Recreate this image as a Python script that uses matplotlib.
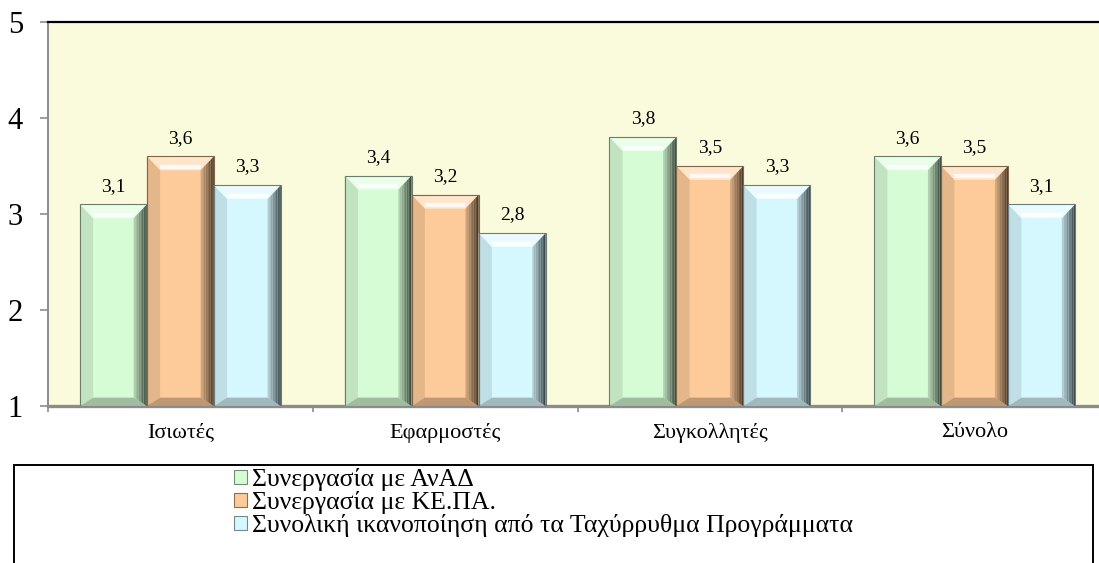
import numpy as np
import matplotlib
matplotlib.use("Agg")
import matplotlib.pyplot as plt
from matplotlib.patches import Polygon, Patch, Rectangle
from matplotlib.colors import to_rgb

plt.rcParams['font.family'] = ['Liberation Serif', 'DejaVu Serif']

categories = ['Ισιωτές', 'Εφαρμοστές', 'Συγκολλητές', 'Σύνολο']
series_names = ['Συνεργασία με ΑνΑΔ',
                'Συνεργασία με ΚΕ.ΠΑ.',
                'Συνολική ικανοποίηση από τα Ταχύρρυθμα Προγράμματα']
anad = [3.1, 3.4, 3.8, 3.6]
kepa = [3.6, 3.2, 3.5, 3.5]
total = [3.3, 2.8, 3.3, 3.1]
yticks = [1, 2, 3, 4, 5]

face_colors = ['#D6FCD5', '#FDCB99', '#D5F7FE']
W, H = 1099, 563


def mix(c, other, t):
    c = np.array(to_rgb(c))
    o = np.array(to_rgb(other))
    return tuple(c * (1 - t) + o * t)


def bevel(ax, patch, color, dx=0.05, dy=0.145, nstrip=8):
    # fake 3D bevelled edges on top of a flat bar
    x0, y0 = patch.get_x(), patch.get_y()
    x1, y1 = x0 + patch.get_width(), y0 + patch.get_height()
    by = dy * 0.6
    ax.add_patch(Polygon([(x0, y1), (x1, y1), (x1 - dx, y1 - dy), (x0 + dx, y1 - dy)],
                         closed=True, fc=mix(color, 'white', 0.5), ec='none', zorder=3))
    ax.add_patch(Polygon([(x0, y1), (x0 + dx, y1 - dy), (x0 + dx, y0 + by), (x0, y0)],
                         closed=True, fc=mix(color, 'black', 0.1), ec='none', zorder=3))
    ax.add_patch(Polygon([(x0, y0), (x1, y0), (x1 - dx, y0 + by), (x0 + dx, y0 + by)],
                         closed=True, fc=mix(color, 'black', 0.25), ec='none', zorder=3))
    # right side: gradient from face colour to dark edge
    for i in range(nstrip):
        a, b = i / nstrip, (i + 1) / nstrip
        xa, xb = x1 - dx * (1 - a), x1 - dx * (1 - b)
        ya_t, yb_t = y1 - dy * (1 - a), y1 - dy * (1 - b)
        ya_b, yb_b = y0 + by * (1 - a), y0 + by * (1 - b)
        ax.add_patch(Polygon([(xa, ya_t), (xb, yb_t), (xb, yb_b), (xa, ya_b)],
                             closed=True, fc=mix(color, 'black', 0.1 + 0.6 * b),
                             ec='none', zorder=3))
    # white highlight under the top bevel
    ax.plot([x0 + dx, x1 - dx], [y1 - dy * 0.75, y1 - dy * 0.75], color='white',
            lw=3, alpha=0.8, solid_capstyle='butt', zorder=4)
    ax.add_patch(Rectangle((x0, y0), x1 - x0, y1 - y0, fill=False,
                           ec=mix(color, 'black', 0.5), lw=0.8, zorder=4))


fig = plt.figure(figsize=(W / 100, H / 100), dpi=100)
ax = fig.add_axes([48 / W, (H - 406) / H, (1107 - 48) / W, (406 - 22) / H])
ax.set_facecolor('#FAFADC')

x = np.arange(len(categories))
bw = 0.253
offsets = [-bw, 0, bw]
for vals, off, col in zip([anad, kepa, total], offsets, face_colors):
    bars = ax.bar(x + off, np.array(vals) - 1, bw, bottom=1, color=col,
                  edgecolor='none', zorder=2)
    for p, v in zip(bars, vals):
        bevel(ax, p, col)
        ax.annotate(f"{v:.1f}".replace('.', ','), (p.get_x() + p.get_width() / 2, v),
                    xytext=(0, 7), textcoords='offset points',
                    ha='center', va='bottom', fontsize=14, zorder=5)

ax.set_xlim(-0.5, len(categories) - 0.5)
ax.set_ylim(1, 5)
ax.set_yticks(yticks)
ax.set_yticklabels([str(t) for t in yticks], fontsize=22)
ax.tick_params(axis='y', direction='out', length=6, width=1.2, color='#8C8C8C', pad=12)

ax.set_xticks(x)
ax.set_xticklabels(categories, fontsize=16)
ax.set_xticks(np.arange(len(categories) + 1) - 0.5, minor=True)
ax.tick_params(axis='x', which='major', length=0, pad=12)
ax.tick_params(axis='x', which='minor', direction='out', length=4, width=1.2, color='#8C8C8C')

ax.spines['top'].set_color('black')
ax.spines['top'].set_linewidth(1.6)
ax.spines['left'].set_color('#8C8C8C')
ax.spines['left'].set_linewidth(1.4)
ax.spines['bottom'].set_color('#8C8C8C')
ax.spines['bottom'].set_linewidth(2.4)
ax.spines['right'].set_visible(False)

# legend box running off the bottom of the figure
fig.patches.append(Rectangle((14 / W, -0.05), (1093 - 14) / W, (H - 465) / H + 0.05,
                             transform=fig.transFigure, fill=False, ec='black', lw=1.4))
handles = [Patch(facecolor=c, edgecolor=mix(c, 'black', 0.45), lw=0.8) for c in face_colors]
fig.legend(handles, series_names, loc='upper left',
           bbox_to_anchor=(234 / W, (H - 468) / H), frameon=False, fontsize=18.5,
           handlelength=0.5, handleheight=0.5, handletextpad=0.2,
           labelspacing=0.0, borderpad=0, borderaxespad=0)

fig.savefig('out.png', dpi=100)
